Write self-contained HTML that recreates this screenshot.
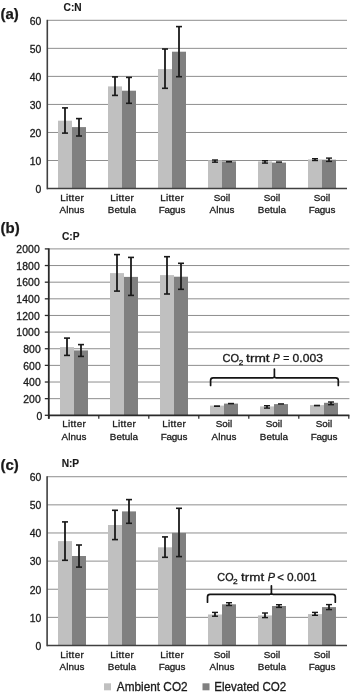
<!DOCTYPE html>
<html><head><meta charset="utf-8"><title>Figure</title>
<style>
html,body{margin:0;padding:0;background:#fff;}
body{width:350px;height:695px;overflow:hidden;}
svg{display:block;font-family:"Liberation Sans", sans-serif;filter:grayscale(1);}
</style></head>
<body>
<svg width="350" height="695" viewBox="0 0 350 695">
<text x="0.50" y="18.70" font-size="15" text-anchor="start" font-weight="bold" fill="#1a1a1a" stroke="#1a1a1a" stroke-width="0.25" >(a)</text>
<text x="72.60" y="10.90" font-size="10.2" text-anchor="middle" font-weight="bold" fill="#1a1a1a" stroke="#1a1a1a" stroke-width="0.15" >C:N</text>
<line x1="47.30" y1="160.51" x2="347.00" y2="160.51" stroke="#8e8e8e" stroke-width="1"/>
<line x1="47.30" y1="132.47" x2="347.00" y2="132.47" stroke="#8e8e8e" stroke-width="1"/>
<line x1="47.30" y1="104.43" x2="347.00" y2="104.43" stroke="#8e8e8e" stroke-width="1"/>
<line x1="47.30" y1="76.39" x2="347.00" y2="76.39" stroke="#8e8e8e" stroke-width="1"/>
<line x1="47.30" y1="48.35" x2="347.00" y2="48.35" stroke="#8e8e8e" stroke-width="1"/>
<line x1="47.30" y1="20.31" x2="347.00" y2="20.31" stroke="#8e8e8e" stroke-width="1"/>
<rect x="58.00" y="120.70" width="14.00" height="67.85" fill="#c0c0c0"/>
<rect x="72.00" y="127.10" width="14.00" height="61.45" fill="#808080"/>
<rect x="108.00" y="86.40" width="14.00" height="102.15" fill="#c0c0c0"/>
<rect x="122.00" y="90.70" width="14.00" height="97.85" fill="#808080"/>
<rect x="158.00" y="69.10" width="14.00" height="119.45" fill="#c0c0c0"/>
<rect x="172.00" y="51.70" width="14.00" height="136.85" fill="#808080"/>
<rect x="208.00" y="160.30" width="14.00" height="28.25" fill="#c0c0c0"/>
<rect x="222.00" y="161.40" width="14.00" height="27.15" fill="#808080"/>
<rect x="258.00" y="161.40" width="14.00" height="27.15" fill="#c0c0c0"/>
<rect x="272.00" y="162.60" width="14.00" height="25.95" fill="#808080"/>
<rect x="308.00" y="159.40" width="14.00" height="29.15" fill="#c0c0c0"/>
<rect x="322.00" y="159.70" width="14.00" height="28.85" fill="#808080"/>
<line x1="65.00" y1="107.90" x2="65.00" y2="133.10" stroke="#1a1a1a" stroke-width="1.8"/>
<line x1="62.00" y1="107.90" x2="68.00" y2="107.90" stroke="#1a1a1a" stroke-width="1.6"/>
<line x1="62.00" y1="133.10" x2="68.00" y2="133.10" stroke="#1a1a1a" stroke-width="1.6"/>
<line x1="79.00" y1="118.60" x2="79.00" y2="136.00" stroke="#1a1a1a" stroke-width="1.8"/>
<line x1="76.00" y1="118.60" x2="82.00" y2="118.60" stroke="#1a1a1a" stroke-width="1.6"/>
<line x1="76.00" y1="136.00" x2="82.00" y2="136.00" stroke="#1a1a1a" stroke-width="1.6"/>
<line x1="115.00" y1="76.90" x2="115.00" y2="95.40" stroke="#1a1a1a" stroke-width="1.8"/>
<line x1="112.00" y1="76.90" x2="118.00" y2="76.90" stroke="#1a1a1a" stroke-width="1.6"/>
<line x1="112.00" y1="95.40" x2="118.00" y2="95.40" stroke="#1a1a1a" stroke-width="1.6"/>
<line x1="129.00" y1="77.40" x2="129.00" y2="103.30" stroke="#1a1a1a" stroke-width="1.8"/>
<line x1="126.00" y1="77.40" x2="132.00" y2="77.40" stroke="#1a1a1a" stroke-width="1.6"/>
<line x1="126.00" y1="103.30" x2="132.00" y2="103.30" stroke="#1a1a1a" stroke-width="1.6"/>
<line x1="165.00" y1="49.00" x2="165.00" y2="88.30" stroke="#1a1a1a" stroke-width="1.8"/>
<line x1="162.00" y1="49.00" x2="168.00" y2="49.00" stroke="#1a1a1a" stroke-width="1.6"/>
<line x1="162.00" y1="88.30" x2="168.00" y2="88.30" stroke="#1a1a1a" stroke-width="1.6"/>
<line x1="179.00" y1="26.60" x2="179.00" y2="76.70" stroke="#1a1a1a" stroke-width="1.8"/>
<line x1="176.00" y1="26.60" x2="182.00" y2="26.60" stroke="#1a1a1a" stroke-width="1.6"/>
<line x1="176.00" y1="76.70" x2="182.00" y2="76.70" stroke="#1a1a1a" stroke-width="1.6"/>
<line x1="215.00" y1="160.00" x2="215.00" y2="162.20" stroke="#1a1a1a" stroke-width="1.8"/>
<line x1="212.00" y1="160.00" x2="218.00" y2="160.00" stroke="#1a1a1a" stroke-width="1.4"/>
<line x1="212.00" y1="162.20" x2="218.00" y2="162.20" stroke="#1a1a1a" stroke-width="1.4"/>
<line x1="226.00" y1="161.75" x2="232.00" y2="161.75" stroke="#1a1a1a" stroke-width="1.6999999999999886"/>
<line x1="265.00" y1="160.70" x2="265.00" y2="163.10" stroke="#1a1a1a" stroke-width="1.8"/>
<line x1="262.00" y1="160.70" x2="268.00" y2="160.70" stroke="#1a1a1a" stroke-width="1.4"/>
<line x1="262.00" y1="163.10" x2="268.00" y2="163.10" stroke="#1a1a1a" stroke-width="1.4"/>
<line x1="276.00" y1="162.10" x2="282.00" y2="162.10" stroke="#1a1a1a" stroke-width="1.5"/>
<line x1="315.00" y1="158.70" x2="315.00" y2="160.50" stroke="#1a1a1a" stroke-width="1.8"/>
<line x1="312.00" y1="158.70" x2="318.00" y2="158.70" stroke="#1a1a1a" stroke-width="1.4"/>
<line x1="312.00" y1="160.50" x2="318.00" y2="160.50" stroke="#1a1a1a" stroke-width="1.4"/>
<line x1="329.00" y1="158.10" x2="329.00" y2="161.40" stroke="#1a1a1a" stroke-width="1.8"/>
<line x1="326.00" y1="158.10" x2="332.00" y2="158.10" stroke="#1a1a1a" stroke-width="1.4"/>
<line x1="326.00" y1="161.40" x2="332.00" y2="161.40" stroke="#1a1a1a" stroke-width="1.4"/>
<line x1="47.30" y1="19.81" x2="47.30" y2="189.30" stroke="#404040" stroke-width="1.6"/>
<line x1="47.30" y1="188.55" x2="347.00" y2="188.55" stroke="#404040" stroke-width="1.6"/>
<text x="41.50" y="192.85" font-size="10.4" text-anchor="end" font-weight="normal" fill="#1a1a1a" stroke="#1a1a1a" stroke-width="0.3" letter-spacing="0.1">0</text>
<text x="41.50" y="164.81" font-size="10.4" text-anchor="end" font-weight="normal" fill="#1a1a1a" stroke="#1a1a1a" stroke-width="0.3" letter-spacing="0.1">10</text>
<text x="41.50" y="136.77" font-size="10.4" text-anchor="end" font-weight="normal" fill="#1a1a1a" stroke="#1a1a1a" stroke-width="0.3" letter-spacing="0.1">20</text>
<text x="41.50" y="108.73" font-size="10.4" text-anchor="end" font-weight="normal" fill="#1a1a1a" stroke="#1a1a1a" stroke-width="0.3" letter-spacing="0.1">30</text>
<text x="41.50" y="80.69" font-size="10.4" text-anchor="end" font-weight="normal" fill="#1a1a1a" stroke="#1a1a1a" stroke-width="0.3" letter-spacing="0.1">40</text>
<text x="41.50" y="52.65" font-size="10.4" text-anchor="end" font-weight="normal" fill="#1a1a1a" stroke="#1a1a1a" stroke-width="0.3" letter-spacing="0.1">50</text>
<text x="41.50" y="24.61" font-size="10.4" text-anchor="end" font-weight="normal" fill="#1a1a1a" stroke="#1a1a1a" stroke-width="0.3" letter-spacing="0.1">60</text>
<text x="72.17" y="200.90" font-size="9.9" text-anchor="middle" font-weight="normal" fill="#1a1a1a" stroke="#1a1a1a" stroke-width="0.3" letter-spacing="0.35">Litter</text>
<text x="72.03" y="212.60" font-size="9.9" text-anchor="middle" font-weight="normal" fill="#1a1a1a" stroke="#1a1a1a" stroke-width="0.3" letter-spacing="0.05">Alnus</text>
<text x="122.17" y="200.90" font-size="9.9" text-anchor="middle" font-weight="normal" fill="#1a1a1a" stroke="#1a1a1a" stroke-width="0.3" letter-spacing="0.35">Litter</text>
<text x="122.03" y="212.60" font-size="9.9" text-anchor="middle" font-weight="normal" fill="#1a1a1a" stroke="#1a1a1a" stroke-width="0.3" letter-spacing="0.05">Betula</text>
<text x="172.18" y="200.90" font-size="9.9" text-anchor="middle" font-weight="normal" fill="#1a1a1a" stroke="#1a1a1a" stroke-width="0.3" letter-spacing="0.35">Litter</text>
<text x="171.90" y="212.60" font-size="9.9" text-anchor="middle" font-weight="normal" fill="#1a1a1a" stroke="#1a1a1a" stroke-width="0.3" letter-spacing="-0.2">Fagus</text>
<text x="222.03" y="200.90" font-size="9.9" text-anchor="middle" font-weight="normal" fill="#1a1a1a" stroke="#1a1a1a" stroke-width="0.3" letter-spacing="0.05">Soil</text>
<text x="222.03" y="212.60" font-size="9.9" text-anchor="middle" font-weight="normal" fill="#1a1a1a" stroke="#1a1a1a" stroke-width="0.3" letter-spacing="0.05">Alnus</text>
<text x="272.02" y="200.90" font-size="9.9" text-anchor="middle" font-weight="normal" fill="#1a1a1a" stroke="#1a1a1a" stroke-width="0.3" letter-spacing="0.05">Soil</text>
<text x="272.02" y="212.60" font-size="9.9" text-anchor="middle" font-weight="normal" fill="#1a1a1a" stroke="#1a1a1a" stroke-width="0.3" letter-spacing="0.05">Betula</text>
<text x="322.02" y="200.90" font-size="9.9" text-anchor="middle" font-weight="normal" fill="#1a1a1a" stroke="#1a1a1a" stroke-width="0.3" letter-spacing="0.05">Soil</text>
<text x="321.90" y="212.60" font-size="9.9" text-anchor="middle" font-weight="normal" fill="#1a1a1a" stroke="#1a1a1a" stroke-width="0.3" letter-spacing="-0.2">Fagus</text>
<text x="0.50" y="233.40" font-size="15" text-anchor="start" font-weight="bold" fill="#1a1a1a" stroke="#1a1a1a" stroke-width="0.25" >(b)</text>
<text x="70.80" y="239.90" font-size="10.2" text-anchor="middle" font-weight="bold" fill="#1a1a1a" stroke="#1a1a1a" stroke-width="0.15" >C:P</text>
<line x1="48.80" y1="398.66" x2="349.40" y2="398.66" stroke="#8e8e8e" stroke-width="1"/>
<line x1="48.80" y1="382.02" x2="349.40" y2="382.02" stroke="#8e8e8e" stroke-width="1"/>
<line x1="48.80" y1="365.38" x2="349.40" y2="365.38" stroke="#8e8e8e" stroke-width="1"/>
<line x1="48.80" y1="348.74" x2="349.40" y2="348.74" stroke="#8e8e8e" stroke-width="1"/>
<line x1="48.80" y1="332.10" x2="349.40" y2="332.10" stroke="#8e8e8e" stroke-width="1"/>
<line x1="48.80" y1="315.46" x2="349.40" y2="315.46" stroke="#8e8e8e" stroke-width="1"/>
<line x1="48.80" y1="298.82" x2="349.40" y2="298.82" stroke="#8e8e8e" stroke-width="1"/>
<line x1="48.80" y1="282.18" x2="349.40" y2="282.18" stroke="#8e8e8e" stroke-width="1"/>
<line x1="48.80" y1="265.54" x2="349.40" y2="265.54" stroke="#8e8e8e" stroke-width="1"/>
<line x1="48.80" y1="248.90" x2="349.40" y2="248.90" stroke="#8e8e8e" stroke-width="1"/>
<rect x="60.00" y="347.10" width="14.00" height="68.20" fill="#c0c0c0"/>
<rect x="74.00" y="350.40" width="14.00" height="64.90" fill="#808080"/>
<rect x="110.00" y="273.10" width="14.00" height="142.20" fill="#c0c0c0"/>
<rect x="124.00" y="276.90" width="14.00" height="138.40" fill="#808080"/>
<rect x="160.00" y="275.10" width="14.00" height="140.20" fill="#c0c0c0"/>
<rect x="174.00" y="276.70" width="14.00" height="138.60" fill="#808080"/>
<rect x="210.00" y="405.60" width="14.00" height="9.70" fill="#c0c0c0"/>
<rect x="224.00" y="403.60" width="14.00" height="11.70" fill="#808080"/>
<rect x="260.00" y="406.40" width="14.00" height="8.90" fill="#c0c0c0"/>
<rect x="274.00" y="404.10" width="14.00" height="11.20" fill="#808080"/>
<rect x="310.00" y="405.10" width="14.00" height="10.20" fill="#c0c0c0"/>
<rect x="324.00" y="402.80" width="14.00" height="12.50" fill="#808080"/>
<line x1="67.00" y1="338.10" x2="67.00" y2="355.40" stroke="#1a1a1a" stroke-width="1.8"/>
<line x1="64.00" y1="338.10" x2="70.00" y2="338.10" stroke="#1a1a1a" stroke-width="1.6"/>
<line x1="64.00" y1="355.40" x2="70.00" y2="355.40" stroke="#1a1a1a" stroke-width="1.6"/>
<line x1="81.00" y1="344.60" x2="81.00" y2="356.40" stroke="#1a1a1a" stroke-width="1.8"/>
<line x1="78.00" y1="344.60" x2="84.00" y2="344.60" stroke="#1a1a1a" stroke-width="1.6"/>
<line x1="78.00" y1="356.40" x2="84.00" y2="356.40" stroke="#1a1a1a" stroke-width="1.6"/>
<line x1="117.00" y1="254.60" x2="117.00" y2="291.10" stroke="#1a1a1a" stroke-width="1.8"/>
<line x1="114.00" y1="254.60" x2="120.00" y2="254.60" stroke="#1a1a1a" stroke-width="1.6"/>
<line x1="114.00" y1="291.10" x2="120.00" y2="291.10" stroke="#1a1a1a" stroke-width="1.6"/>
<line x1="131.00" y1="257.40" x2="131.00" y2="295.40" stroke="#1a1a1a" stroke-width="1.8"/>
<line x1="128.00" y1="257.40" x2="134.00" y2="257.40" stroke="#1a1a1a" stroke-width="1.6"/>
<line x1="128.00" y1="295.40" x2="134.00" y2="295.40" stroke="#1a1a1a" stroke-width="1.6"/>
<line x1="167.00" y1="256.70" x2="167.00" y2="294.00" stroke="#1a1a1a" stroke-width="1.8"/>
<line x1="164.00" y1="256.70" x2="170.00" y2="256.70" stroke="#1a1a1a" stroke-width="1.6"/>
<line x1="164.00" y1="294.00" x2="170.00" y2="294.00" stroke="#1a1a1a" stroke-width="1.6"/>
<line x1="181.00" y1="263.30" x2="181.00" y2="289.30" stroke="#1a1a1a" stroke-width="1.8"/>
<line x1="178.00" y1="263.30" x2="184.00" y2="263.30" stroke="#1a1a1a" stroke-width="1.6"/>
<line x1="178.00" y1="289.30" x2="184.00" y2="289.30" stroke="#1a1a1a" stroke-width="1.6"/>
<line x1="214.00" y1="406.15" x2="220.00" y2="406.15" stroke="#1a1a1a" stroke-width="1.6999999999999886"/>
<line x1="228.00" y1="403.60" x2="234.00" y2="403.60" stroke="#1a1a1a" stroke-width="1.599999999999966"/>
<line x1="267.00" y1="405.70" x2="267.00" y2="408.10" stroke="#1a1a1a" stroke-width="1.8"/>
<line x1="264.00" y1="405.70" x2="270.00" y2="405.70" stroke="#1a1a1a" stroke-width="1.4"/>
<line x1="264.00" y1="408.10" x2="270.00" y2="408.10" stroke="#1a1a1a" stroke-width="1.4"/>
<line x1="278.00" y1="403.95" x2="284.00" y2="403.95" stroke="#1a1a1a" stroke-width="1.5"/>
<line x1="314.00" y1="405.55" x2="320.00" y2="405.55" stroke="#1a1a1a" stroke-width="1.6999999999999886"/>
<line x1="331.00" y1="402.00" x2="331.00" y2="404.70" stroke="#1a1a1a" stroke-width="1.8"/>
<line x1="328.00" y1="402.00" x2="334.00" y2="402.00" stroke="#1a1a1a" stroke-width="1.4"/>
<line x1="328.00" y1="404.70" x2="334.00" y2="404.70" stroke="#1a1a1a" stroke-width="1.4"/>
<line x1="48.80" y1="248.40" x2="48.80" y2="418.80" stroke="#2a2a2a" stroke-width="1.8"/>
<line x1="48.80" y1="415.30" x2="349.40" y2="415.30" stroke="#2a2a2a" stroke-width="1.8"/>
<line x1="44.80" y1="415.30" x2="48.80" y2="415.30" stroke="#2a2a2a" stroke-width="1.3"/>
<line x1="44.80" y1="398.66" x2="48.80" y2="398.66" stroke="#2a2a2a" stroke-width="1.3"/>
<line x1="44.80" y1="382.02" x2="48.80" y2="382.02" stroke="#2a2a2a" stroke-width="1.3"/>
<line x1="44.80" y1="365.38" x2="48.80" y2="365.38" stroke="#2a2a2a" stroke-width="1.3"/>
<line x1="44.80" y1="348.74" x2="48.80" y2="348.74" stroke="#2a2a2a" stroke-width="1.3"/>
<line x1="44.80" y1="332.10" x2="48.80" y2="332.10" stroke="#2a2a2a" stroke-width="1.3"/>
<line x1="44.80" y1="315.46" x2="48.80" y2="315.46" stroke="#2a2a2a" stroke-width="1.3"/>
<line x1="44.80" y1="298.82" x2="48.80" y2="298.82" stroke="#2a2a2a" stroke-width="1.3"/>
<line x1="44.80" y1="282.18" x2="48.80" y2="282.18" stroke="#2a2a2a" stroke-width="1.3"/>
<line x1="44.80" y1="265.54" x2="48.80" y2="265.54" stroke="#2a2a2a" stroke-width="1.3"/>
<line x1="44.80" y1="248.90" x2="48.80" y2="248.90" stroke="#2a2a2a" stroke-width="1.3"/>
<line x1="48.80" y1="415.30" x2="48.80" y2="418.80" stroke="#2a2a2a" stroke-width="1.2"/>
<line x1="98.80" y1="415.30" x2="98.80" y2="418.80" stroke="#2a2a2a" stroke-width="1.2"/>
<line x1="148.80" y1="415.30" x2="148.80" y2="418.80" stroke="#2a2a2a" stroke-width="1.2"/>
<line x1="198.80" y1="415.30" x2="198.80" y2="418.80" stroke="#2a2a2a" stroke-width="1.2"/>
<line x1="248.80" y1="415.30" x2="248.80" y2="418.80" stroke="#2a2a2a" stroke-width="1.2"/>
<line x1="298.80" y1="415.30" x2="298.80" y2="418.80" stroke="#2a2a2a" stroke-width="1.2"/>
<line x1="348.80" y1="415.30" x2="348.80" y2="418.80" stroke="#2a2a2a" stroke-width="1.2"/>
<text x="42.50" y="419.60" font-size="10.4" text-anchor="end" font-weight="normal" fill="#1a1a1a" stroke="#1a1a1a" stroke-width="0.3" letter-spacing="0.1">0</text>
<text x="40.80" y="402.96" font-size="10.4" text-anchor="end" font-weight="normal" fill="#1a1a1a" stroke="#1a1a1a" stroke-width="0.3" letter-spacing="0.1">200</text>
<text x="40.80" y="386.32" font-size="10.4" text-anchor="end" font-weight="normal" fill="#1a1a1a" stroke="#1a1a1a" stroke-width="0.3" letter-spacing="0.1">400</text>
<text x="40.80" y="369.68" font-size="10.4" text-anchor="end" font-weight="normal" fill="#1a1a1a" stroke="#1a1a1a" stroke-width="0.3" letter-spacing="0.1">600</text>
<text x="40.80" y="353.04" font-size="10.4" text-anchor="end" font-weight="normal" fill="#1a1a1a" stroke="#1a1a1a" stroke-width="0.3" letter-spacing="0.1">800</text>
<text x="39.80" y="336.40" font-size="10.4" text-anchor="end" font-weight="normal" fill="#1a1a1a" stroke="#1a1a1a" stroke-width="0.3" letter-spacing="0.1">1000</text>
<text x="39.80" y="319.76" font-size="10.4" text-anchor="end" font-weight="normal" fill="#1a1a1a" stroke="#1a1a1a" stroke-width="0.3" letter-spacing="0.1">1200</text>
<text x="39.80" y="303.12" font-size="10.4" text-anchor="end" font-weight="normal" fill="#1a1a1a" stroke="#1a1a1a" stroke-width="0.3" letter-spacing="0.1">1400</text>
<text x="39.80" y="286.48" font-size="10.4" text-anchor="end" font-weight="normal" fill="#1a1a1a" stroke="#1a1a1a" stroke-width="0.3" letter-spacing="0.1">1600</text>
<text x="39.80" y="269.84" font-size="10.4" text-anchor="end" font-weight="normal" fill="#1a1a1a" stroke="#1a1a1a" stroke-width="0.3" letter-spacing="0.1">1800</text>
<text x="39.80" y="253.20" font-size="10.4" text-anchor="end" font-weight="normal" fill="#1a1a1a" stroke="#1a1a1a" stroke-width="0.3" letter-spacing="0.1">2000</text>
<text x="74.17" y="427.10" font-size="9.9" text-anchor="middle" font-weight="normal" fill="#1a1a1a" stroke="#1a1a1a" stroke-width="0.3" letter-spacing="0.35">Litter</text>
<text x="74.03" y="439.90" font-size="9.9" text-anchor="middle" font-weight="normal" fill="#1a1a1a" stroke="#1a1a1a" stroke-width="0.3" letter-spacing="0.05">Alnus</text>
<text x="124.17" y="427.10" font-size="9.9" text-anchor="middle" font-weight="normal" fill="#1a1a1a" stroke="#1a1a1a" stroke-width="0.3" letter-spacing="0.35">Litter</text>
<text x="124.03" y="439.90" font-size="9.9" text-anchor="middle" font-weight="normal" fill="#1a1a1a" stroke="#1a1a1a" stroke-width="0.3" letter-spacing="0.05">Betula</text>
<text x="174.18" y="427.10" font-size="9.9" text-anchor="middle" font-weight="normal" fill="#1a1a1a" stroke="#1a1a1a" stroke-width="0.3" letter-spacing="0.35">Litter</text>
<text x="173.90" y="439.90" font-size="9.9" text-anchor="middle" font-weight="normal" fill="#1a1a1a" stroke="#1a1a1a" stroke-width="0.3" letter-spacing="-0.2">Fagus</text>
<text x="224.03" y="427.10" font-size="9.9" text-anchor="middle" font-weight="normal" fill="#1a1a1a" stroke="#1a1a1a" stroke-width="0.3" letter-spacing="0.05">Soil</text>
<text x="224.03" y="439.90" font-size="9.9" text-anchor="middle" font-weight="normal" fill="#1a1a1a" stroke="#1a1a1a" stroke-width="0.3" letter-spacing="0.05">Alnus</text>
<text x="274.02" y="427.10" font-size="9.9" text-anchor="middle" font-weight="normal" fill="#1a1a1a" stroke="#1a1a1a" stroke-width="0.3" letter-spacing="0.05">Soil</text>
<text x="274.02" y="439.90" font-size="9.9" text-anchor="middle" font-weight="normal" fill="#1a1a1a" stroke="#1a1a1a" stroke-width="0.3" letter-spacing="0.05">Betula</text>
<text x="324.02" y="427.10" font-size="9.9" text-anchor="middle" font-weight="normal" fill="#1a1a1a" stroke="#1a1a1a" stroke-width="0.3" letter-spacing="0.05">Soil</text>
<text x="323.90" y="439.90" font-size="9.9" text-anchor="middle" font-weight="normal" fill="#1a1a1a" stroke="#1a1a1a" stroke-width="0.3" letter-spacing="-0.2">Fagus</text>
<path d="M210.60,385.50 L210.60,380.30 Q210.60,377.80 213.10,377.80 L272.80,377.80 Q274.40,377.80 274.40,376.20 L274.40,369.20 M274.40,376.20 Q274.40,377.80 276.00,377.80 L335.80,377.80 Q338.30,377.80 338.30,380.30 L338.30,385.50" fill="none" stroke="#141414" stroke-width="1.7" stroke-linecap="round"/>
<text x="222.45" y="361.90" font-size="11" text-anchor="start" font-weight="normal" fill="#1a1a1a" stroke="#1a1a1a" stroke-width="0.3" textLength="16.50" lengthAdjust="spacingAndGlyphs">CO</text>
<text x="238.89" y="364.60" font-size="7.5" text-anchor="start" font-weight="normal" fill="#1a1a1a" stroke="#1a1a1a" stroke-width="0.3" textLength="4.52" lengthAdjust="spacingAndGlyphs">2</text>
<text x="246.09" y="361.90" font-size="11" text-anchor="start" font-weight="normal" fill="#1a1a1a" stroke="#1a1a1a" stroke-width="0.3" textLength="23.60" lengthAdjust="spacingAndGlyphs">trmt</text>
<text x="273.00" y="361.90" font-size="11" text-anchor="start" font-weight="normal" fill="#1a1a1a" stroke="#1a1a1a" stroke-width="0.3" textLength="6.67" lengthAdjust="spacingAndGlyphs" font-style="italic">P</text>
<text x="283.37" y="361.90" font-size="11" text-anchor="start" font-weight="normal" fill="#1a1a1a" stroke="#1a1a1a" stroke-width="0.3" textLength="6.14" lengthAdjust="spacingAndGlyphs">=</text>
<text x="292.62" y="361.90" font-size="11" text-anchor="start" font-weight="normal" fill="#1a1a1a" stroke="#1a1a1a" stroke-width="0.3" textLength="30.25" lengthAdjust="spacingAndGlyphs">0.003</text>
<text x="0.50" y="469.50" font-size="15" text-anchor="start" font-weight="bold" fill="#1a1a1a" stroke="#1a1a1a" stroke-width="0.25" >(c)</text>
<text x="70.40" y="467.40" font-size="10.2" text-anchor="middle" font-weight="bold" fill="#1a1a1a" stroke="#1a1a1a" stroke-width="0.15" >N:P</text>
<line x1="47.10" y1="617.37" x2="347.00" y2="617.37" stroke="#8e8e8e" stroke-width="1"/>
<line x1="47.10" y1="589.24" x2="347.00" y2="589.24" stroke="#8e8e8e" stroke-width="1"/>
<line x1="47.10" y1="561.11" x2="347.00" y2="561.11" stroke="#8e8e8e" stroke-width="1"/>
<line x1="47.10" y1="532.98" x2="347.00" y2="532.98" stroke="#8e8e8e" stroke-width="1"/>
<line x1="47.10" y1="504.85" x2="347.00" y2="504.85" stroke="#8e8e8e" stroke-width="1"/>
<line x1="47.10" y1="476.72" x2="347.00" y2="476.72" stroke="#8e8e8e" stroke-width="1"/>
<rect x="58.00" y="541.10" width="14.00" height="104.40" fill="#c0c0c0"/>
<rect x="72.00" y="556.00" width="14.00" height="89.50" fill="#808080"/>
<rect x="108.00" y="525.00" width="14.00" height="120.50" fill="#c0c0c0"/>
<rect x="122.00" y="511.40" width="14.00" height="134.10" fill="#808080"/>
<rect x="158.00" y="547.30" width="14.00" height="98.20" fill="#c0c0c0"/>
<rect x="172.00" y="532.90" width="14.00" height="112.60" fill="#808080"/>
<rect x="208.00" y="614.50" width="14.00" height="31.00" fill="#c0c0c0"/>
<rect x="222.00" y="604.30" width="14.00" height="41.20" fill="#808080"/>
<rect x="258.00" y="615.40" width="14.00" height="30.10" fill="#c0c0c0"/>
<rect x="272.00" y="606.00" width="14.00" height="39.50" fill="#808080"/>
<rect x="308.00" y="614.10" width="14.00" height="31.40" fill="#c0c0c0"/>
<rect x="322.00" y="607.10" width="14.00" height="38.40" fill="#808080"/>
<line x1="65.00" y1="521.90" x2="65.00" y2="560.30" stroke="#1a1a1a" stroke-width="1.8"/>
<line x1="62.00" y1="521.90" x2="68.00" y2="521.90" stroke="#1a1a1a" stroke-width="1.6"/>
<line x1="62.00" y1="560.30" x2="68.00" y2="560.30" stroke="#1a1a1a" stroke-width="1.6"/>
<line x1="79.00" y1="545.00" x2="79.00" y2="567.10" stroke="#1a1a1a" stroke-width="1.8"/>
<line x1="76.00" y1="545.00" x2="82.00" y2="545.00" stroke="#1a1a1a" stroke-width="1.6"/>
<line x1="76.00" y1="567.10" x2="82.00" y2="567.10" stroke="#1a1a1a" stroke-width="1.6"/>
<line x1="115.00" y1="510.30" x2="115.00" y2="539.60" stroke="#1a1a1a" stroke-width="1.8"/>
<line x1="112.00" y1="510.30" x2="118.00" y2="510.30" stroke="#1a1a1a" stroke-width="1.6"/>
<line x1="112.00" y1="539.60" x2="118.00" y2="539.60" stroke="#1a1a1a" stroke-width="1.6"/>
<line x1="129.00" y1="499.60" x2="129.00" y2="523.30" stroke="#1a1a1a" stroke-width="1.8"/>
<line x1="126.00" y1="499.60" x2="132.00" y2="499.60" stroke="#1a1a1a" stroke-width="1.6"/>
<line x1="126.00" y1="523.30" x2="132.00" y2="523.30" stroke="#1a1a1a" stroke-width="1.6"/>
<line x1="165.00" y1="536.90" x2="165.00" y2="557.30" stroke="#1a1a1a" stroke-width="1.8"/>
<line x1="162.00" y1="536.90" x2="168.00" y2="536.90" stroke="#1a1a1a" stroke-width="1.6"/>
<line x1="162.00" y1="557.30" x2="168.00" y2="557.30" stroke="#1a1a1a" stroke-width="1.6"/>
<line x1="179.00" y1="508.30" x2="179.00" y2="556.60" stroke="#1a1a1a" stroke-width="1.8"/>
<line x1="176.00" y1="508.30" x2="182.00" y2="508.30" stroke="#1a1a1a" stroke-width="1.6"/>
<line x1="176.00" y1="556.60" x2="182.00" y2="556.60" stroke="#1a1a1a" stroke-width="1.6"/>
<line x1="215.00" y1="612.40" x2="215.00" y2="616.20" stroke="#1a1a1a" stroke-width="1.8"/>
<line x1="212.00" y1="612.40" x2="218.00" y2="612.40" stroke="#1a1a1a" stroke-width="1.4"/>
<line x1="212.00" y1="616.20" x2="218.00" y2="616.20" stroke="#1a1a1a" stroke-width="1.4"/>
<line x1="229.00" y1="602.70" x2="229.00" y2="605.50" stroke="#1a1a1a" stroke-width="1.8"/>
<line x1="226.00" y1="602.70" x2="232.00" y2="602.70" stroke="#1a1a1a" stroke-width="1.4"/>
<line x1="226.00" y1="605.50" x2="232.00" y2="605.50" stroke="#1a1a1a" stroke-width="1.4"/>
<line x1="265.00" y1="613.00" x2="265.00" y2="617.60" stroke="#1a1a1a" stroke-width="1.8"/>
<line x1="262.00" y1="613.00" x2="268.00" y2="613.00" stroke="#1a1a1a" stroke-width="1.4"/>
<line x1="262.00" y1="617.60" x2="268.00" y2="617.60" stroke="#1a1a1a" stroke-width="1.4"/>
<line x1="279.00" y1="604.70" x2="279.00" y2="607.40" stroke="#1a1a1a" stroke-width="1.8"/>
<line x1="276.00" y1="604.70" x2="282.00" y2="604.70" stroke="#1a1a1a" stroke-width="1.4"/>
<line x1="276.00" y1="607.40" x2="282.00" y2="607.40" stroke="#1a1a1a" stroke-width="1.4"/>
<line x1="315.00" y1="612.40" x2="315.00" y2="615.30" stroke="#1a1a1a" stroke-width="1.8"/>
<line x1="312.00" y1="612.40" x2="318.00" y2="612.40" stroke="#1a1a1a" stroke-width="1.4"/>
<line x1="312.00" y1="615.30" x2="318.00" y2="615.30" stroke="#1a1a1a" stroke-width="1.4"/>
<line x1="329.00" y1="604.60" x2="329.00" y2="609.60" stroke="#1a1a1a" stroke-width="1.8"/>
<line x1="326.00" y1="604.60" x2="332.00" y2="604.60" stroke="#1a1a1a" stroke-width="1.4"/>
<line x1="326.00" y1="609.60" x2="332.00" y2="609.60" stroke="#1a1a1a" stroke-width="1.4"/>
<line x1="47.10" y1="476.22" x2="47.10" y2="646.25" stroke="#404040" stroke-width="1.6"/>
<line x1="47.10" y1="645.50" x2="347.00" y2="645.50" stroke="#404040" stroke-width="1.6"/>
<text x="41.50" y="649.80" font-size="10.4" text-anchor="end" font-weight="normal" fill="#1a1a1a" stroke="#1a1a1a" stroke-width="0.3" letter-spacing="0.1">0</text>
<text x="41.50" y="621.67" font-size="10.4" text-anchor="end" font-weight="normal" fill="#1a1a1a" stroke="#1a1a1a" stroke-width="0.3" letter-spacing="0.1">10</text>
<text x="41.50" y="593.54" font-size="10.4" text-anchor="end" font-weight="normal" fill="#1a1a1a" stroke="#1a1a1a" stroke-width="0.3" letter-spacing="0.1">20</text>
<text x="41.50" y="565.41" font-size="10.4" text-anchor="end" font-weight="normal" fill="#1a1a1a" stroke="#1a1a1a" stroke-width="0.3" letter-spacing="0.1">30</text>
<text x="41.50" y="537.28" font-size="10.4" text-anchor="end" font-weight="normal" fill="#1a1a1a" stroke="#1a1a1a" stroke-width="0.3" letter-spacing="0.1">40</text>
<text x="41.50" y="509.15" font-size="10.4" text-anchor="end" font-weight="normal" fill="#1a1a1a" stroke="#1a1a1a" stroke-width="0.3" letter-spacing="0.1">50</text>
<text x="41.50" y="481.02" font-size="10.4" text-anchor="end" font-weight="normal" fill="#1a1a1a" stroke="#1a1a1a" stroke-width="0.3" letter-spacing="0.1">60</text>
<text x="72.17" y="657.70" font-size="9.9" text-anchor="middle" font-weight="normal" fill="#1a1a1a" stroke="#1a1a1a" stroke-width="0.3" letter-spacing="0.35">Litter</text>
<text x="72.03" y="669.90" font-size="9.9" text-anchor="middle" font-weight="normal" fill="#1a1a1a" stroke="#1a1a1a" stroke-width="0.3" letter-spacing="0.05">Alnus</text>
<text x="122.17" y="657.70" font-size="9.9" text-anchor="middle" font-weight="normal" fill="#1a1a1a" stroke="#1a1a1a" stroke-width="0.3" letter-spacing="0.35">Litter</text>
<text x="122.03" y="669.90" font-size="9.9" text-anchor="middle" font-weight="normal" fill="#1a1a1a" stroke="#1a1a1a" stroke-width="0.3" letter-spacing="0.05">Betula</text>
<text x="172.18" y="657.70" font-size="9.9" text-anchor="middle" font-weight="normal" fill="#1a1a1a" stroke="#1a1a1a" stroke-width="0.3" letter-spacing="0.35">Litter</text>
<text x="171.90" y="669.90" font-size="9.9" text-anchor="middle" font-weight="normal" fill="#1a1a1a" stroke="#1a1a1a" stroke-width="0.3" letter-spacing="-0.2">Fagus</text>
<text x="222.03" y="657.70" font-size="9.9" text-anchor="middle" font-weight="normal" fill="#1a1a1a" stroke="#1a1a1a" stroke-width="0.3" letter-spacing="0.05">Soil</text>
<text x="222.03" y="669.90" font-size="9.9" text-anchor="middle" font-weight="normal" fill="#1a1a1a" stroke="#1a1a1a" stroke-width="0.3" letter-spacing="0.05">Alnus</text>
<text x="272.02" y="657.70" font-size="9.9" text-anchor="middle" font-weight="normal" fill="#1a1a1a" stroke="#1a1a1a" stroke-width="0.3" letter-spacing="0.05">Soil</text>
<text x="272.02" y="669.90" font-size="9.9" text-anchor="middle" font-weight="normal" fill="#1a1a1a" stroke="#1a1a1a" stroke-width="0.3" letter-spacing="0.05">Betula</text>
<text x="322.02" y="657.70" font-size="9.9" text-anchor="middle" font-weight="normal" fill="#1a1a1a" stroke="#1a1a1a" stroke-width="0.3" letter-spacing="0.05">Soil</text>
<text x="321.90" y="669.90" font-size="9.9" text-anchor="middle" font-weight="normal" fill="#1a1a1a" stroke="#1a1a1a" stroke-width="0.3" letter-spacing="-0.2">Fagus</text>
<path d="M207.50,602.20 L207.50,596.80 Q207.50,594.30 210.00,594.30 L269.80,594.30 Q271.40,594.30 271.40,592.70 L271.40,585.80 M271.40,592.70 Q271.40,594.30 273.00,594.30 L332.80,594.30 Q335.30,594.30 335.30,596.80 L335.30,602.20" fill="none" stroke="#141414" stroke-width="1.7" stroke-linecap="round"/>
<text x="217.36" y="580.50" font-size="11" text-anchor="start" font-weight="normal" fill="#1a1a1a" stroke="#1a1a1a" stroke-width="0.3" textLength="16.18" lengthAdjust="spacingAndGlyphs">CO</text>
<text x="233.08" y="583.50" font-size="7.5" text-anchor="start" font-weight="normal" fill="#1a1a1a" stroke="#1a1a1a" stroke-width="0.3" textLength="4.64" lengthAdjust="spacingAndGlyphs">2</text>
<text x="241.10" y="580.50" font-size="11" text-anchor="start" font-weight="normal" fill="#1a1a1a" stroke="#1a1a1a" stroke-width="0.3" textLength="23.10" lengthAdjust="spacingAndGlyphs">trmt</text>
<text x="267.67" y="580.50" font-size="11" text-anchor="start" font-weight="normal" fill="#1a1a1a" stroke="#1a1a1a" stroke-width="0.3" textLength="7.31" lengthAdjust="spacingAndGlyphs" font-style="italic">P</text>
<text x="277.33" y="580.50" font-size="11" text-anchor="start" font-weight="normal" fill="#1a1a1a" stroke="#1a1a1a" stroke-width="0.3" textLength="6.62" lengthAdjust="spacingAndGlyphs">&lt;</text>
<text x="286.93" y="580.50" font-size="11" text-anchor="start" font-weight="normal" fill="#1a1a1a" stroke="#1a1a1a" stroke-width="0.3" textLength="29.69" lengthAdjust="spacingAndGlyphs">0.001</text>
<rect x="104.00" y="683.30" width="7.00" height="7.00" fill="#c0c0c0"/>
<text x="116.84" y="690.70" font-size="12" text-anchor="start" font-weight="normal" fill="#1a1a1a" stroke="#1a1a1a" stroke-width="0.3" textLength="70.78" lengthAdjust="spacingAndGlyphs">Ambient CO2</text>
<rect x="202.50" y="683.30" width="7.00" height="7.00" fill="#808080"/>
<text x="214.27" y="690.70" font-size="12" text-anchor="start" font-weight="normal" fill="#1a1a1a" stroke="#1a1a1a" stroke-width="0.3" textLength="72.02" lengthAdjust="spacingAndGlyphs">Elevated CO2</text>
</svg>
</body></html>
